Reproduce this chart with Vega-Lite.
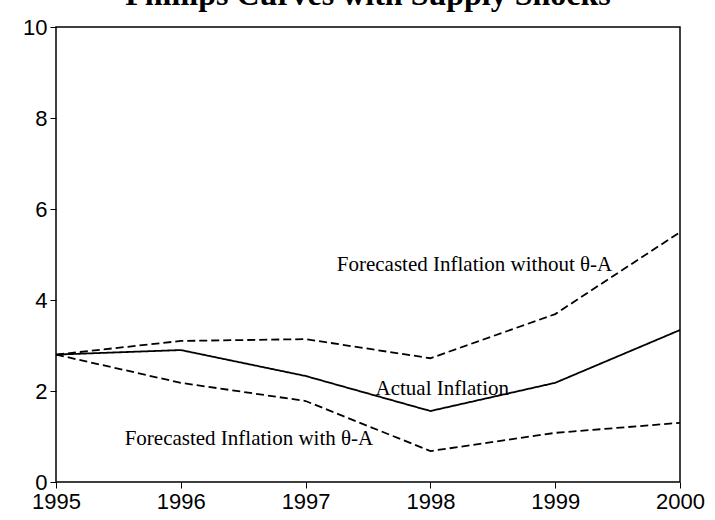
{
  "$schema": "https://vega.github.io/schema/vega-lite/v6.json",
  "width": 624,
  "height": 455,
  "autosize": "none",
  "padding": {"left": 56, "top": 27, "right": 35, "bottom": 38},
  "background": "white",
  "title": {
    "text": "Phillips Curves with Supply Shocks",
    "font": "Liberation Serif",
    "fontSize": 32,
    "fontWeight": "bold",
    "color": "black",
    "anchor": "middle",
    "frame": "group",
    "baseline": "alphabetic",
    "offset": -21
  },
  "config": {
    "view": {"stroke": "black", "strokeWidth": 1.5},
    "axis": {
      "domain": false,
      "grid": false,
      "tickColor": "black",
      "tickSize": 6,
      "tickWidth": 1,
      "labelColor": "black",
      "labelFont": "Liberation Sans",
      "labelFontSize": 22,
      "title": null
    }
  },
  "datasets": {
    "series": [
      {"year": 1995, "series": "Actual", "value": 2.8},
      {"year": 1996, "series": "Actual", "value": 2.9},
      {"year": 1997, "series": "Actual", "value": 2.33},
      {"year": 1998, "series": "Actual", "value": 1.56},
      {"year": 1999, "series": "Actual", "value": 2.18},
      {"year": 2000, "series": "Actual", "value": 3.34},
      {"year": 1995, "series": "Without", "value": 2.8},
      {"year": 1996, "series": "Without", "value": 3.1},
      {"year": 1997, "series": "Without", "value": 3.14},
      {"year": 1998, "series": "Without", "value": 2.72},
      {"year": 1999, "series": "Without", "value": 3.69},
      {"year": 2000, "series": "Without", "value": 5.49},
      {"year": 1995, "series": "With", "value": 2.8},
      {"year": 1996, "series": "With", "value": 2.18},
      {"year": 1997, "series": "With", "value": 1.78},
      {"year": 1998, "series": "With", "value": 0.68},
      {"year": 1999, "series": "With", "value": 1.08},
      {"year": 2000, "series": "With", "value": 1.3}
    ],
    "labels": [
      {"label": "Forecasted Inflation without θ-A", "x": 1997.25, "y": 4.77},
      {"label": "Actual Inflation", "x": 1997.56, "y": 2.04},
      {"label": "Forecasted Inflation with θ-A", "x": 1995.55, "y": 0.95}
    ]
  },
  "layer": [
    {
      "data": {"name": "series"},
      "mark": {"type": "line", "color": "black", "strokeWidth": 1.8},
      "encoding": {
        "x": {
          "field": "year", "type": "quantitative",
          "scale": {"domain": [1995, 2000], "nice": false, "zero": false},
          "axis": {"values": [1995, 1996, 1997, 1998, 1999, 2000], "format": "d", "labelPadding": 3, "labelFlush": false}
        },
        "y": {
          "field": "value", "type": "quantitative",
          "scale": {"domain": [0, 10], "nice": false},
          "axis": {"values": [0, 2, 4, 6, 8, 10], "labelPadding": 3}
        },
        "detail": {"field": "series"},
        "strokeDash": {
          "field": "series", "type": "nominal",
          "scale": {"domain": ["Actual", "Without", "With"], "range": [[1, 0], [8, 4], [8, 4]]},
          "legend": null
        }
      }
    },
    {
      "data": {"name": "labels"},
      "mark": {"type": "text", "align": "left", "baseline": "middle", "font": "Liberation Serif", "fontSize": 21, "color": "black"},
      "encoding": {
        "x": {"field": "x", "type": "quantitative"},
        "y": {"field": "y", "type": "quantitative"},
        "text": {"field": "label"}
      }
    }
  ]
}
